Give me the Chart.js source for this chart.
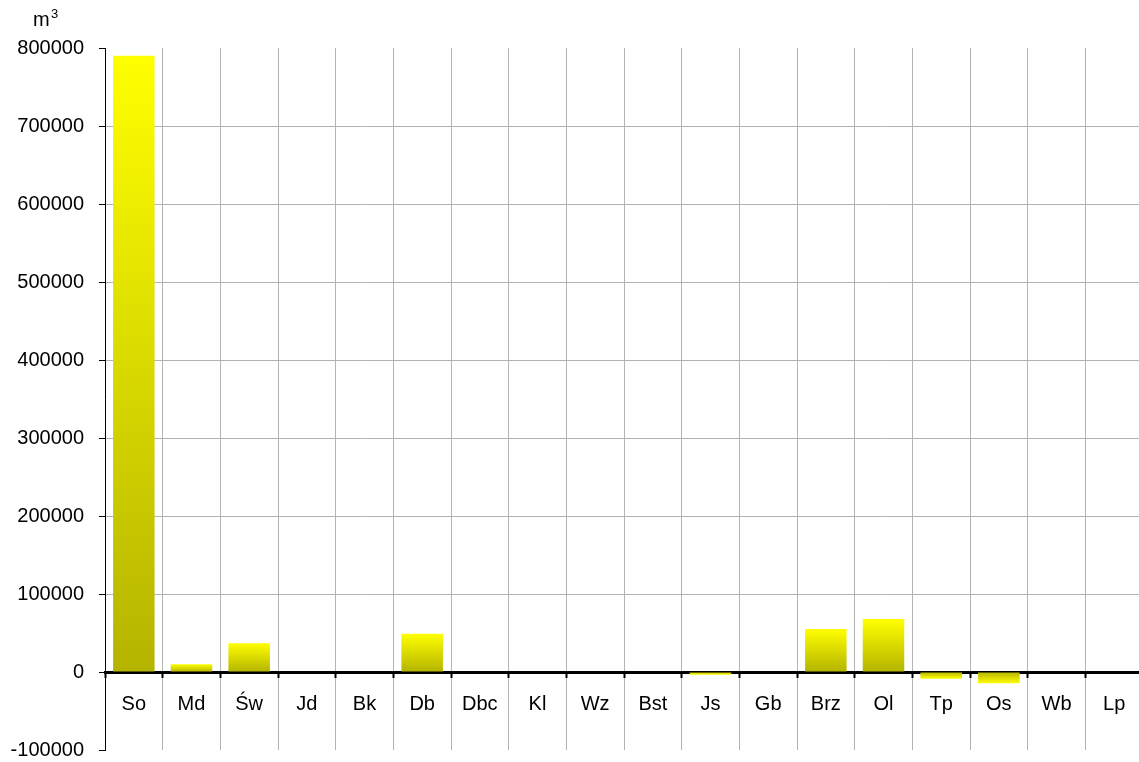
<!DOCTYPE html>
<html>
<head>
<meta charset="utf-8">
<script src="https://cdn.jsdelivr.net/npm/chart.js@4/dist/chart.umd.min.js"></script>
<style>
  html, body { margin: 0; padding: 0; overflow: hidden; background: #fff; }
  #wrap { position: relative; width: 1143px; height: 777px; }
</style>
</head>
<body>
<div id="wrap"><canvas id="chart"></canvas></div>
<script>
const categories = ['So', 'Md', 'Św', 'Jd', 'Bk', 'Db', 'Dbc', 'Kl', 'Wz', 'Bst', 'Js', 'Gb', 'Brz', 'Ol', 'Tp', 'Os', 'Wb', 'Lp'];
const volumes = [790000, 10000, 37000, 0, 0, 49000, 0, 0, 0, 0, -3500, 0, 55000, 68000, -8500, -14500, 0, 0];
const unitLabel = 'm³';
const yMin = -100000;
const yMax = 800000;
const yStep = 100000;

const fontFamily = '"Liberation Sans", Arial, sans-serif';

// gradient per bar: bright yellow at the value end, olive at the zero line
function barGradient(ctx) {
    const chart = ctx.chart;
    const y = chart.scales.y;
    if (!chart.chartArea || !y) return '#ffff00';
    const v = ctx.raw;
    const end = y.getPixelForValue(v);
    const base = y.getPixelForValue(0);
    if (Math.abs(end - base) < 0.5) return '#ffff00';
    const g = chart.ctx.createLinearGradient(0, end, 0, base);
    g.addColorStop(0, '#ffff00');
    g.addColorStop(1, '#b4b400');
    return g;
}

const unitTitle = {
    id: 'unitTitle',
    afterDraw(chart) {
        const c = chart.ctx;
        c.save();
        c.fillStyle = '#000';
        c.font = '20px ' + fontFamily;
        c.textBaseline = 'alphabetic';
        c.fillText(unitLabel.charAt(0), 33, 26);
        c.font = '13px ' + fontFamily;
        c.fillText('3', 51, 18);
        c.restore();
    }
};

new Chart(document.getElementById('chart'), {
    type: 'bar',
    data: {
        labels: categories,
        datasets: [{
            data: volumes,
            backgroundColor: barGradient,
            borderWidth: 0,
            categoryPercentage: 0.72,
            barPercentage: 1
        }]
    },
    options: {
        responsive: true,
        maintainAspectRatio: false,
        animation: false,
        layout: { padding: { top: 48, bottom: 0, left: 0, right: 0 } },
        plugins: {
            legend: { display: false },
            tooltip: { enabled: false }
        },
        scales: {
            x: {
                type: 'category',
                position: { y: 0 },
                offset: true,
                grid: {
                    offset: true,
                    color: '#b3b3b3',
                    lineWidth: 1,
                    tickColor: '#000',
                    tickLength: 4,
                    tickWidth: 2
                },
                border: { color: '#000', width: 3 },
                ticks: {
                    color: '#000',
                    font: { family: fontFamily, size: 20 },
                    padding: 16,
                    maxRotation: 0,
                    autoSkip: false
                }
            },
            y: {
                min: yMin,
                max: yMax,
                afterFit(scale) { scale.width = 105; },
                grid: {
                    color: (ctx) => {
                        const v = ctx.tick ? ctx.tick.value : null;
                        return (v === 0 || v === yMin || v === yMax) ? 'rgba(0,0,0,0)' : '#b3b3b3';
                    },
                    tickColor: '#000',
                    tickLength: 6,
                    lineWidth: 1
                },
                border: { color: '#000', width: 1 },
                ticks: {
                    stepSize: yStep,
                    color: '#000',
                    font: { family: fontFamily, size: 20 },
                    padding: 15,
                    callback: (v) => String(v)
                }
            }
        }
    },
    plugins: [unitTitle]
});
</script>
</body>
</html>
